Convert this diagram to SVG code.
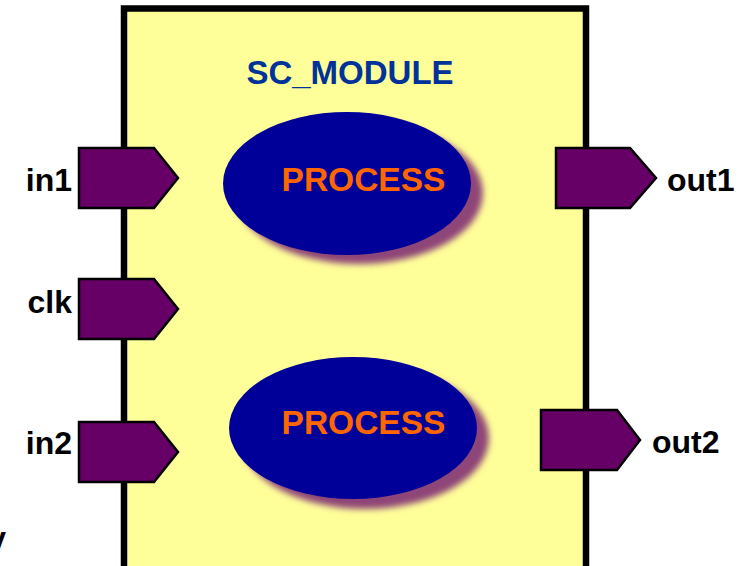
<svg xmlns="http://www.w3.org/2000/svg" width="754" height="566" viewBox="0 0 754 566">
  <style>
    .port { fill: #660066; stroke: #000000; stroke-width: 2.5; stroke-linejoin: miter; }
    .plabel { font-family: "Liberation Sans", Arial, sans-serif; font-weight: bold; font-size: 32px; fill: #000000; }
    .proc { fill: #000099; }
    .shadow { fill: #8E4577; filter: url(#soft); }
    .ptext { font-family: "Liberation Sans", Arial, sans-serif; font-weight: bold; font-size: 33.5px; fill: #FF6600; }
    .title { font-family: "Liberation Sans", Arial, sans-serif; font-weight: bold; font-size: 33px; fill: #003399; }
  </style>
  <defs>
    <filter id="soft" x="-20%" y="-20%" width="140%" height="140%">
      <feGaussianBlur stdDeviation="3"/>
    </filter>
  </defs>

  <rect width="754" height="566" fill="#ffffff"/>

  <!-- module body -->
  <g id="module">
    <rect x="124" y="8.5" width="462" height="600" fill="#FFFF99" stroke="#000000" stroke-width="6.5"/>
    <text class="title" x="350" y="84" text-anchor="middle">SC_MODULE</text>
  </g>

  <!-- processes -->
  <g id="process1">
    <ellipse class="shadow" cx="359" cy="193" rx="124" ry="71"/>
    <ellipse class="proc" cx="347" cy="183.5" rx="124" ry="71.5"/>
    <text class="ptext" x="363.5" y="191" text-anchor="middle">PROCESS</text>
  </g>
  <g id="process2">
    <ellipse class="shadow" cx="365" cy="438" rx="124" ry="71"/>
    <ellipse class="proc" cx="353" cy="428" rx="124" ry="71"/>
    <text class="ptext" x="363.5" y="434" text-anchor="middle">PROCESS</text>
  </g>

  <!-- input ports -->
  <g id="in1">
    <polygon class="port" points="79,148 154,148 178,178 154,208 79,208"/>
    <text class="plabel" x="72" y="191" text-anchor="end">in1</text>
  </g>
  <g id="clk">
    <polygon class="port" points="79,279 154,279 178,309 154,339 79,339"/>
    <text class="plabel" x="72" y="313" text-anchor="end">clk</text>
  </g>
  <g id="in2">
    <polygon class="port" points="79,422 154,422 178,452 154,482 79,482"/>
    <text class="plabel" x="72" y="454" text-anchor="end">in2</text>
  </g>

  <!-- output ports -->
  <g id="out1">
    <polygon class="port" points="556,148 630,148 656,178 630,208 556,208"/>
    <text class="plabel" x="667" y="191">out1</text>
  </g>
  <g id="out2">
    <polygon class="port" points="541,410 617,410 640,440 617,470 541,470"/>
    <text class="plabel" x="652" y="453">out2</text>
  </g>

  <!-- clipped caption glyph at the lower left edge -->
  <text class="plabel" x="6" y="549" text-anchor="end">y</text>
</svg>
